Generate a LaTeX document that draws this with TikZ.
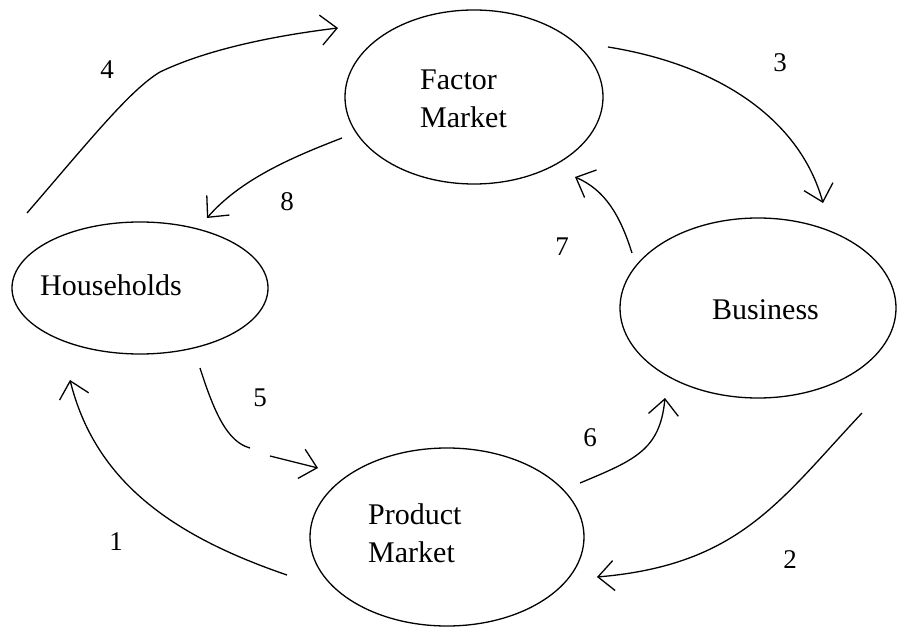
\documentclass[tikz,border=0pt]{standalone}
\usepackage{fontspec}
\setmainfont{Liberation Serif}
\usetikzlibrary{shapes.geometric,arrows.meta}
\begin{document}
\begin{tikzpicture}[x=1pt,y=-1pt,
  market/.style={draw, ellipse, line width=1.3pt, inner sep=0pt},
  caption/.style={font=\fontsize{30}{38}\selectfont, align=left, inner sep=0pt, anchor=west},
  num/.style={font=\fontsize{27}{32}\selectfont, inner sep=0pt},
  flow/.style={line width=1.3pt, -{Straight Barb[length=16pt,width=30pt]}}]
\useasboundingbox[fill=white] (0,0) rectangle (897,628);

% the four sectors
\node[market, minimum width=258pt, minimum height=174pt] (fm) at (474,97) {};
\node[market, minimum width=256pt, minimum height=132pt] (hh) at (140,288) {};
\node[market, minimum width=276pt, minimum height=180pt] (bu) at (758,308) {};
\node[market, minimum width=274pt, minimum height=178pt] (pm) at (447,537) {};

\node[caption] (fmt) at (420,99) {Factor\\Market};
\node[caption] (hht) at (40,285) {Households};
\node[caption] (but) at (712,310) {Business};
\node[caption] (pmt) at (368,533) {Product\\Market};

% flow end points
\coordinate (a4) at (27,213);  \coordinate (b4) at (338,28);
\coordinate (a3) at (608,47);  \coordinate (b3) at (823,203);
\coordinate (a8) at (342,138); \coordinate (b8) at (207,218);
\coordinate (a7) at (632,253); \coordinate (b7) at (575,177);
\coordinate (a5) at (200,368); \coordinate (m5) at (250,448);
\coordinate (n5) at (270,456); \coordinate (b5) at (318,468);
\coordinate (a6) at (580,483); \coordinate (b6) at (665,398);
\coordinate (a1) at (287,575); \coordinate (b1) at (70,380);
\coordinate (a2) at (862,413); \coordinate (b2) at (597,577);

% flows
\draw[flow] (a4) .. controls (90,140) and (130,90) .. (160,72)
                 .. controls (210,48) and (280,35) .. (b4);
\draw[flow] (a3) .. controls (720,65) and (800,120) .. (b3);
\draw[flow] (a8) .. controls (290,158) and (240,180) .. (b8);
\draw[flow] (a7) .. controls (620,215) and (605,190) .. (b7);
\draw[flow] (a5) .. controls (215,415) and (228,442) .. (m5) (n5) -- (b5);
\draw[flow] (a6) .. controls (635,460) and (660,450) .. (b6);
\draw[flow] (a1) .. controls (170,535) and (95,480) .. (b1);
\draw[flow] (a2) .. controls (780,500) and (740,565) .. (b2);

% flow numbers
\node[num] (n4) at (107,70) {4};
\node[num] (n3) at (780,63) {3};
\node[num] (n8) at (287,202) {8};
\node[num] (n7) at (562,247) {7};
\node[num] (n5) at (260,398) {5};
\node[num] (n1) at (116,542) {1};
\node[num] (n6) at (590,438) {6};
\node[num] (n2) at (790,560) {2};
\end{tikzpicture}
\end{document}
